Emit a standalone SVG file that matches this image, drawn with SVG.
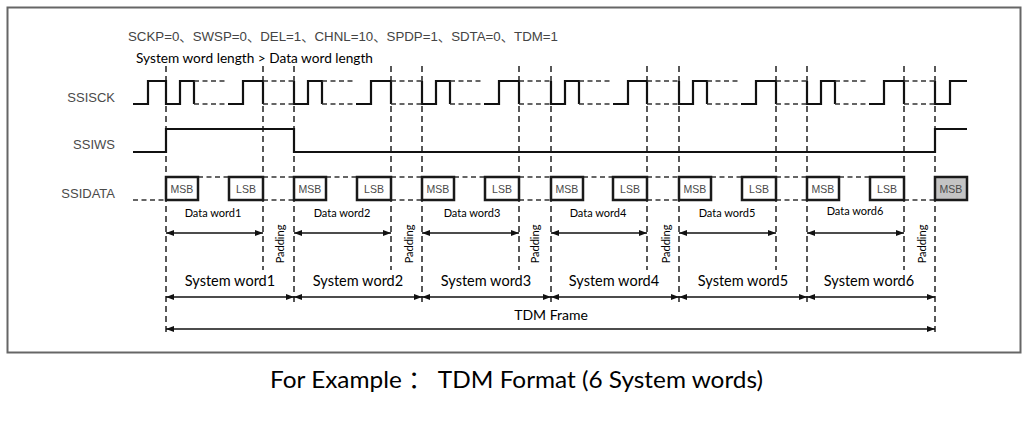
<svg xmlns="http://www.w3.org/2000/svg" width="1035" height="429" viewBox="0 0 1035 429">
<defs>
<marker id="ah" viewBox="0 0 8 6" refX="8" refY="3" markerWidth="8" markerHeight="6" markerUnits="userSpaceOnUse" orient="auto-start-reverse"><path d="M0,0 L8,3 L0,6 z" fill="#111"/></marker>
</defs>
<style>
.sig{font-family:"Liberation Sans",Arial,sans-serif;font-size:13px;fill:#4a4a4a;text-anchor:end}
.bx{fill:#fff;stroke:#1a1a1a;stroke-width:2.5}
.bx.last{fill:#c4c4c4}
.bt{font-family:"Liberation Sans",Arial,sans-serif;font-size:10.5px;fill:#4a4a4a;text-anchor:middle}
.wave{fill:none;stroke:#111;stroke-width:2.2}
.dash{fill:none;stroke:#333;stroke-width:1.6;stroke-dasharray:5 3.5}
.guide{fill:none;stroke:#222;stroke-width:1.5;stroke-dasharray:6 4}
.arr{fill:none;stroke:#111;stroke-width:1.5}
.cal{font-family:Lato,"Open Sans","Noto Sans CJK SC",sans-serif;fill:#000}
.dw{font-size:11px;text-anchor:middle}
.pd{font-size:11px;text-anchor:middle}
.sw{font-size:14.5px;text-anchor:middle}
</style>
<rect width="1035" height="429" fill="#fff"/>
<rect id="frame" x="7.5" y="7.5" width="1013" height="345" fill="none" stroke="#666" stroke-width="2"/>

<g id="title">
<text x="128" y="41" font-family="'Liberation Sans','Noto Sans CJK SC',sans-serif" font-size="13" fill="#444" textLength="430" lengthAdjust="spacingAndGlyphs">SCKP=0、SWSP=0、DEL=1、CHNL=10、SPDP=1、SDTA=0、TDM=1</text>
<text class="cal" x="136" y="63" font-size="14" textLength="237" lengthAdjust="spacingAndGlyphs">System word length &gt; Data word length</text>
</g>

<g id="connectors">
<g id="guides" class="guide">
<path d="M166,66 V333 M294,66 V306 M422,66 V306 M551,66 V306 M679,66 V306 M807,66 V306 M935,66 V333"/>
<path d="M263,66 V270 M391,66 V270 M519,66 V270 M647,66 V270 M776,66 V270 M904,66 V270"/>
</g>
<g id="data-arrows" class="arr">
<line x1="166" y1="233" x2="263" y2="233" marker-start="url(#ah)" marker-end="url(#ah)"/>
<line x1="294" y1="233" x2="391" y2="233" marker-start="url(#ah)" marker-end="url(#ah)"/>
<line x1="422" y1="233" x2="519" y2="233" marker-start="url(#ah)" marker-end="url(#ah)"/>
<line x1="551" y1="233" x2="647" y2="233" marker-start="url(#ah)" marker-end="url(#ah)"/>
<line x1="679" y1="233" x2="776" y2="233" marker-start="url(#ah)" marker-end="url(#ah)"/>
<line x1="807" y1="233" x2="904" y2="233" marker-start="url(#ah)" marker-end="url(#ah)"/>
</g>
<g id="system-arrows" class="arr">
<line x1="166" y1="297" x2="294" y2="297" marker-start="url(#ah)" marker-end="url(#ah)"/>
<line x1="294" y1="297" x2="422" y2="297" marker-start="url(#ah)" marker-end="url(#ah)"/>
<line x1="422" y1="297" x2="551" y2="297" marker-start="url(#ah)" marker-end="url(#ah)"/>
<line x1="551" y1="297" x2="679" y2="297" marker-start="url(#ah)" marker-end="url(#ah)"/>
<line x1="679" y1="297" x2="807" y2="297" marker-start="url(#ah)" marker-end="url(#ah)"/>
<line x1="807" y1="297" x2="935" y2="297" marker-start="url(#ah)" marker-end="url(#ah)"/>
</g>
<g id="frame-arrow" class="arr">
<line x1="166" y1="329" x2="935" y2="329" marker-start="url(#ah)" marker-end="url(#ah)"/>
</g>
</g>

<g id="ssisck">
<text class="sig" x="115" y="102">SSISCK</text>
<path class="wave" d="M133,104 H148 V81 H166 V104 H180 V81 H194 V104 M228,104 H243 V81 H263 V104
M294,81 V104 H308 V81 H322 V104 M356,104 H371 V81 H391 V104
M422,81 V104 H436 V81 H450 V104 M484,104 H499 V81 H519 V104
M551,81 V104 H565 V81 H579 V104 M613,104 H628 V81 H647 V104
M679,81 V104 H693 V81 H707 V104 M741,104 H756 V81 H776 V104
M807,81 V104 H821 V81 H835 V104 M869,104 H884 V81 H904 V104
M935,81 V104 H950 V81 H967"/>
<path class="dash" d="M194,81 H228 M194,104 H228 M263,81 H294 M263,104 H294
M322,81 H356 M322,104 H356 M391,81 H422 M391,104 H422
M450,81 H484 M450,104 H484 M519,81 H551 M519,104 H551
M579,81 H613 M579,104 H613 M647,81 H679 M647,104 H679
M707,81 H741 M707,104 H741 M776,81 H807 M776,104 H807
M835,81 H869 M835,104 H869 M904,81 H935 M904,104 H935"/>
</g>

<g id="ssiws">
<text class="sig" x="115" y="149">SSIWS</text>
<path class="wave" d="M133,152 H166 V129 H294 V152 H935 V129 H967"/>
</g>

<g id="ssidata">
<text class="sig" x="115" y="198">SSIDATA</text>
<path class="dash" d="M133,200 H166 M198,177 H229 M263,177 H294 M263,200 H294
M326,177 H357 M391,177 H422 M391,200 H422
M454,177 H485 M519,177 H551 M519,200 H551
M583,177 H613 M647,177 H679 M647,200 H679
M711,177 H742 M776,177 H807 M776,200 H807
M839,177 H870 M904,200 H935"/>
</g>

<g id="word1">
<rect class="bx" x="166" y="177" width="32" height="23"/><text class="bt" x="182" y="192.5">MSB</text>
<rect class="bx" x="229" y="177" width="34" height="23"/><text class="bt" x="246" y="192.5">LSB</text>
<text class="cal dw" x="213" y="217">Data word1</text>
<text class="cal pd" transform="translate(284,244) rotate(-90)">Padding</text>
<text class="cal sw" x="230" y="286">System word1</text>
</g>
<g id="word2">
<rect class="bx" x="294" y="177" width="32" height="23"/><text class="bt" x="310" y="192.5">MSB</text>
<rect class="bx" x="357" y="177" width="34" height="23"/><text class="bt" x="374" y="192.5">LSB</text>
<text class="cal dw" x="342" y="217">Data word2</text>
<text class="cal pd" transform="translate(413,244) rotate(-90)">Padding</text>
<text class="cal sw" x="358" y="286">System word2</text>
</g>
<g id="word3">
<rect class="bx" x="422" y="177" width="32" height="23"/><text class="bt" x="438" y="192.5">MSB</text>
<rect class="bx" x="485" y="177" width="34" height="23"/><text class="bt" x="502" y="192.5">LSB</text>
<text class="cal dw" x="472" y="217">Data word3</text>
<text class="cal pd" transform="translate(539,244) rotate(-90)">Padding</text>
<text class="cal sw" x="486" y="286">System word3</text>
</g>
<g id="word4">
<rect class="bx" x="551" y="177" width="32" height="23"/><text class="bt" x="567" y="192.5">MSB</text>
<rect class="bx" x="613" y="177" width="34" height="23"/><text class="bt" x="630" y="192.5">LSB</text>
<text class="cal dw" x="598" y="217">Data word4</text>
<text class="cal pd" transform="translate(670,244) rotate(-90)">Padding</text>
<text class="cal sw" x="614" y="286">System word4</text>
</g>
<g id="word5">
<rect class="bx" x="679" y="177" width="32" height="23"/><text class="bt" x="695" y="192.5">MSB</text>
<rect class="bx" x="742" y="177" width="34" height="23"/><text class="bt" x="759" y="192.5">LSB</text>
<text class="cal dw" x="727" y="217">Data word5</text>
<text class="cal sw" x="743" y="286">System word5</text>
</g>
<g id="word6">
<rect class="bx" x="807" y="177" width="32" height="23"/><text class="bt" x="823" y="192.5">MSB</text>
<rect class="bx" x="870" y="177" width="34" height="23"/><text class="bt" x="887" y="192.5">LSB</text>
<text class="cal dw" x="855" y="215">Data word6</text>
<text class="cal pd" transform="translate(926,244) rotate(-90)">Padding</text>
<text class="cal sw" x="869" y="286">System word6</text>
</g>
<g id="next-msb">
<rect class="bx last" x="935" y="177" width="32" height="23"/><text class="bt" x="951" y="192.5">MSB</text>
</g>
<g id="tdm-frame">
<text class="cal" x="551" y="320" font-size="14" text-anchor="middle">TDM Frame</text>
</g>

<g id="caption">
<text class="cal" x="516.5" y="388" font-size="23.5" text-anchor="middle" textLength="493" lengthAdjust="spacingAndGlyphs">For Example ： TDM Format (6 System words)</text>
</g>
</svg>
